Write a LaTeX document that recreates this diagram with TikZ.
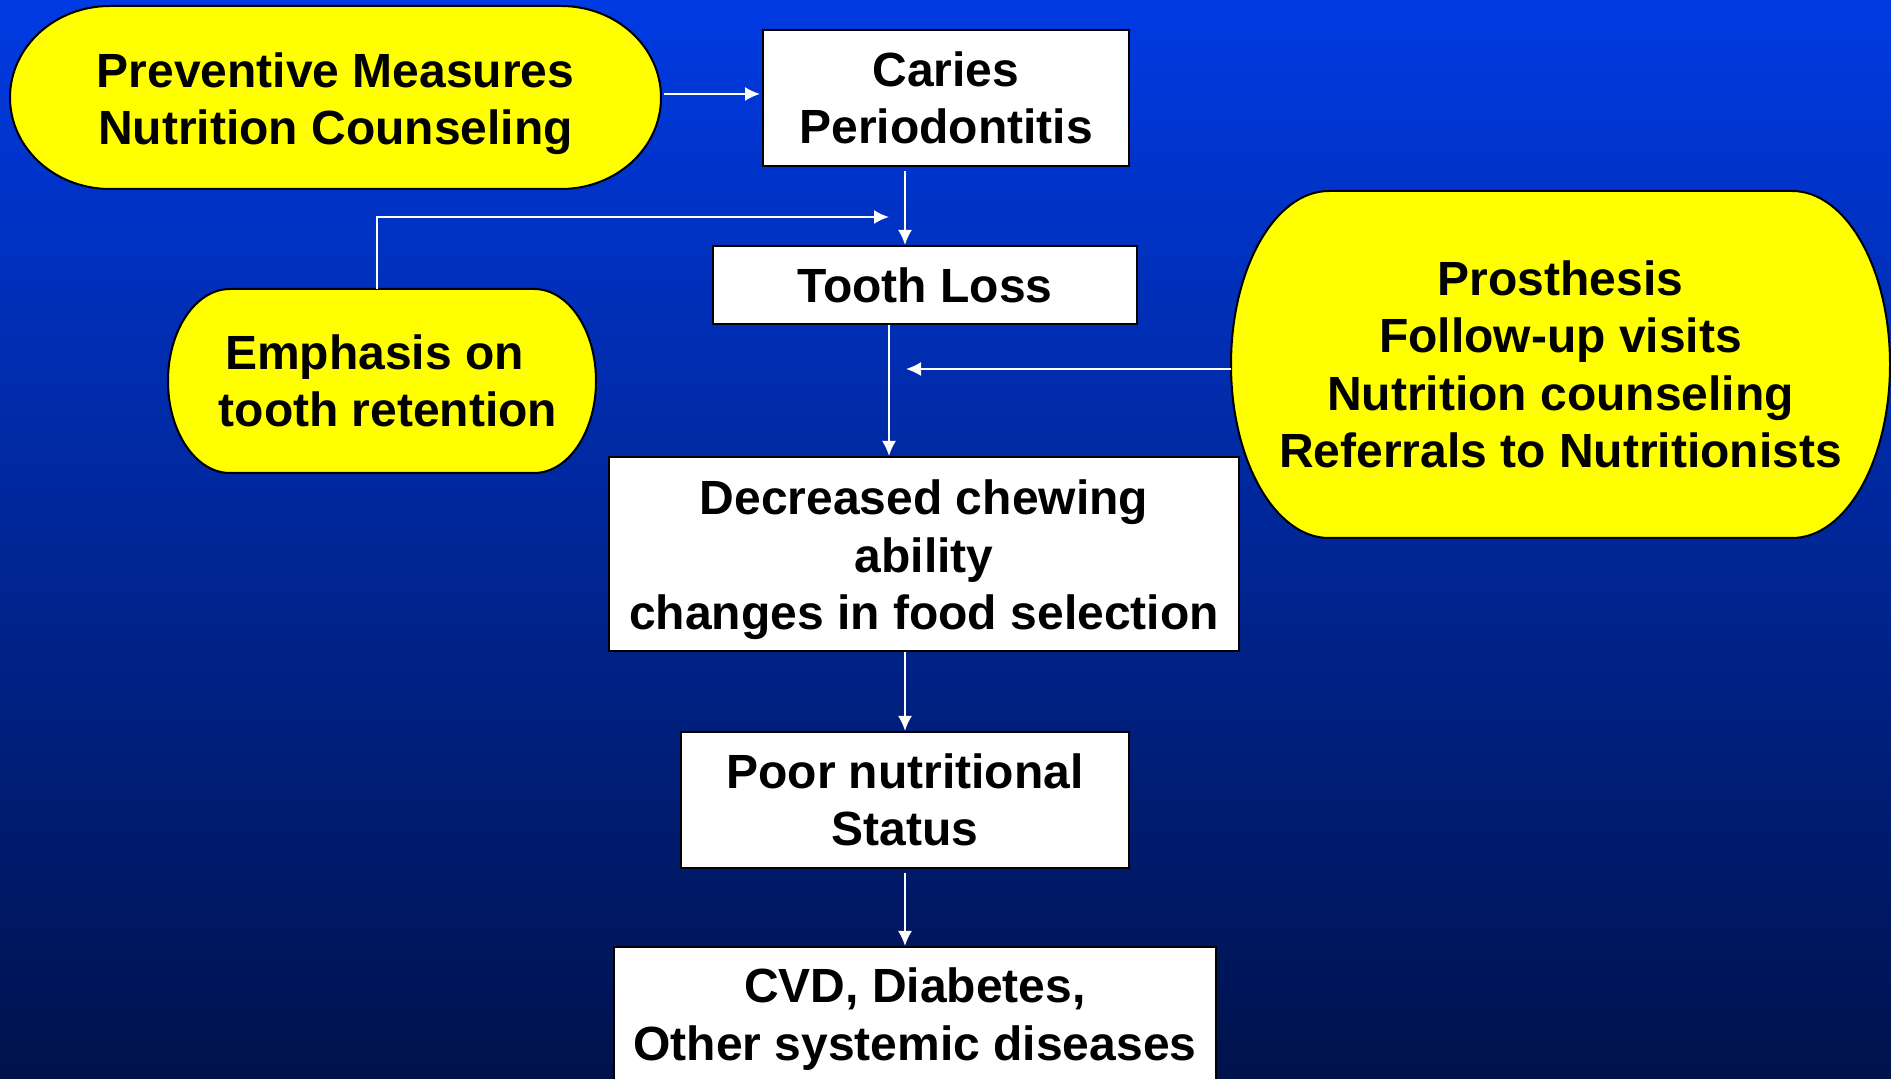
\documentclass[tikz,border=0pt]{standalone}
\usepackage{fontspec}
\setmainfont{Liberation Sans}
\usetikzlibrary{arrows.meta,calc}
\definecolor{bgtop}{RGB}{0,58,226}
\definecolor{bgmid}{RGB}{0,42,172}
\definecolor{bgbot}{RGB}{0,18,76}
\definecolor{ylw}{RGB}{255,255,0}
\tikzset{
  txt/.style={font=\fontsize{48}{57.5}\selectfont\bfseries, align=center, text=black, inner sep=0pt},
  wbox/.style={txt, draw=black, line width=2pt, fill=white},
  yshape/.style={draw=black, line width=2pt, fill=ylw},
  arr/.style={draw=white, line width=2pt, -{Latex[length=15pt,width=14pt]}}
}
\newcommand{\ovalbox}[6]{%
  % x1 x2 ybottom ytop rx ry
  \path[yshape] (#1+#5,#4) -- (#2-#5,#4)
    arc[start angle=90,end angle=0,x radius=#5pt,y radius=#6pt]
    -- (#2,#3+#6)
    arc[start angle=0,end angle=-90,x radius=#5pt,y radius=#6pt]
    -- (#1+#5,#3)
    arc[start angle=270,end angle=180,x radius=#5pt,y radius=#6pt]
    -- (#1,#4-#6)
    arc[start angle=180,end angle=90,x radius=#5pt,y radius=#6pt]
    -- cycle;}
\newcommand{\lift}{\rule{0pt}{47pt}}
\begin{document}
\begin{tikzpicture}[x=1pt,y=1pt]
\useasboundingbox (0,0) rectangle (1891,1079);
\clip (0,0) rectangle (1891,1079);
\shade[top color=bgtop, middle color=bgmid, bottom color=bgbot] (0,0) rectangle (1891,1079);

% yellow shapes
\ovalbox{10}{661}{890}{1073}{100}{91.5}
\node[txt, minimum width=651pt, minimum height=183pt] (prev) at (335.5,981.5) {\lift Preventive Measures\\Nutrition Counseling};

\ovalbox{168}{596}{606}{790}{62}{92}
\node[txt, minimum width=428pt, minimum height=184pt] (emph) at (382,698) {Emphasis on\hspace*{15pt}\\\hspace*{12pt}tooth retention};

\ovalbox{1231}{1890}{541}{888}{98}{173.5}
\node[txt, minimum width=659pt, minimum height=347pt] (pros) at (1560.5,714.5) {Prosthesis\\Follow-up visits\\Nutrition counseling\\Referrals to Nutritionists};

% white boxes
\node[wbox, minimum width=366pt, minimum height=136pt] (caries) at (946,981) {Caries\\Periodontitis};
\node[wbox, minimum width=424pt, minimum height=78pt] (tooth) at (925,794) {Tooth Loss};
\node[wbox, minimum width=630pt, minimum height=194pt] (dec) at (924,525) {\lift Decreased chewing\\ability\\changes in food selection};
\node[wbox, minimum width=448pt, minimum height=136pt] (poor) at (905,279) {Poor nutritional\\Status};
\node[wbox, minimum width=602pt, minimum height=144pt] (cvd) at (915,60) {CVD, Diabetes,\\Other systemic diseases};

% free ends
\coordinate (e1) at (889,862);
\coordinate (p1) at (906,710);

% connectors
\draw[arr, shorten <=3pt, shorten >=2pt] (prev.east |- 0,985) -- (caries.west |- 0,985);
\draw[arr, shorten <=4pt] ([xshift=-41pt]caries.south) -- ([xshift=-41pt]caries.south |- tooth.north);
\draw[arr] ([xshift=-5pt]emph.north) |- (e1);
\draw[arr] ([xshift=-36pt]tooth.south) -- ([xshift=-36pt]tooth.south |- dec.north);
\draw[arr] (pros.west |- p1) -- (p1);
\draw[arr] ([xshift=-19pt]dec.south) -- ([xshift=-19pt]dec.south |- poor.north);
\draw[arr, shorten <=4pt] (poor.south) -- (poor.south |- cvd.north);
\end{tikzpicture}
\end{document}
